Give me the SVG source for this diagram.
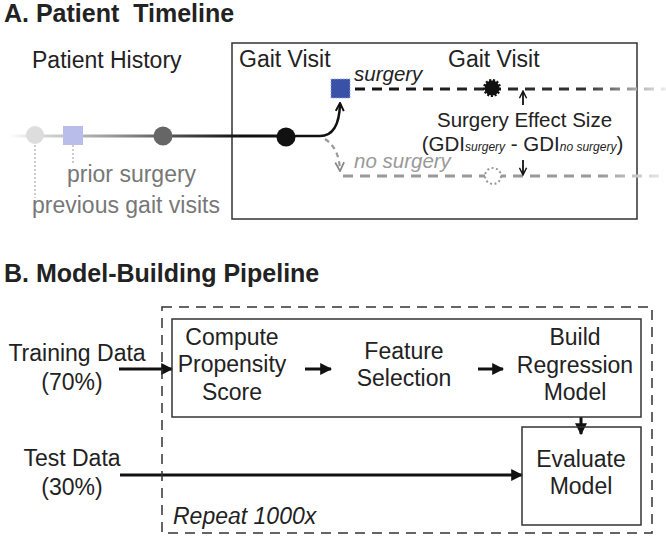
<svg xmlns="http://www.w3.org/2000/svg" width="666" height="538" viewBox="0 0 666 538">
<style>
text{font-family:"Liberation Sans",Arial,sans-serif;fill:#222}
.title{font-weight:bold;font-size:25px;white-space:pre}
.lbl{font-size:23px}
.sm{font-size:20.5px}
.gray{fill:#777}
.it{font-style:italic}
.c{text-anchor:middle}
.box{fill:none;stroke:#333;stroke-width:1.5}
.dash{fill:none;stroke-width:3;stroke-dasharray:10 7}
.arr{fill:none;stroke:#111;stroke-width:2.5}
</style>
<defs>
<linearGradient id="tl" gradientUnits="userSpaceOnUse" x1="8" y1="0" x2="240" y2="0">
<stop offset="0" stop-color="#fff"/>
<stop offset="0.12" stop-color="#ddd"/>
<stop offset="0.45" stop-color="#999"/>
<stop offset="0.7" stop-color="#555"/>
<stop offset="1" stop-color="#111"/>
</linearGradient>
<linearGradient id="fadeB" gradientUnits="userSpaceOnUse" x1="350" y1="0" x2="666" y2="0">
<stop offset="0" stop-color="#111"/>
<stop offset="0.75" stop-color="#333"/>
<stop offset="0.88" stop-color="#999"/>
<stop offset="1" stop-color="#eee"/>
</linearGradient>
<linearGradient id="fadeG" gradientUnits="userSpaceOnUse" x1="340" y1="0" x2="666" y2="0">
<stop offset="0" stop-color="#999"/>
<stop offset="0.8" stop-color="#999"/>
<stop offset="1" stop-color="#eee"/>
</linearGradient>
<marker id="ah" viewBox="0 0 10 10" refX="9" refY="5" markerWidth="4" markerHeight="4" orient="auto">
<path d="M0,0 L10,5 L0,10 z" fill="#111"/>
</marker>
<marker id="ahs" viewBox="0 0 10 10" refX="8" refY="5" markerWidth="5" markerHeight="5" orient="auto">
<path d="M1,1 L9,5 L1,9" fill="none" stroke="#111" stroke-width="1.6"/>
</marker>
<marker id="ahg" viewBox="0 0 10 10" refX="8" refY="5" markerWidth="5" markerHeight="5" orient="auto">
<path d="M1,1 L9,5 L1,9" fill="none" stroke="#888" stroke-width="1.6"/>
</marker>
<marker id="ahc" viewBox="0 0 10 10" refX="8" refY="5" markerWidth="4" markerHeight="4" orient="auto">
<path d="M1,1 L9,5 L1,9" fill="none" stroke="#111" stroke-width="2"/>
</marker>
</defs>

<g id="panelA">
<text class="title" x="4" y="22">A. Patient  Timeline</text>
<rect id="visitBox" class="box" x="232" y="43" width="405" height="176"/>
<text class="lbl" x="32" y="68">Patient History</text>
<text class="lbl" x="239" y="67">Gait Visit</text>
<text class="lbl" x="448" y="67">Gait Visit</text>
</g>

<g id="connectors">
<line x1="8" y1="136" x2="290" y2="136" stroke="url(#tl)" stroke-width="3"/>
<path d="M286 136 L320 136 Q339 136 340 104" class="arr" marker-end="url(#ahc)"/>
<path d="M325 139 Q339 148 340 170" fill="none" stroke="#999" stroke-width="2.2" stroke-dasharray="5 4" marker-end="url(#ahg)"/>
<line x1="355" y1="89" x2="666" y2="89" class="dash" stroke="url(#fadeB)"/>
<line x1="343" y1="176" x2="666" y2="176" class="dash" stroke="url(#fadeG)"/>
<line x1="35" y1="145" x2="35" y2="198" stroke="#999" stroke-width="1" stroke-dasharray="2 2"/>
<line x1="73" y1="145" x2="73" y2="163" stroke="#999" stroke-width="1" stroke-dasharray="2 2"/>
<line x1="523" y1="105" x2="523" y2="92" stroke="#111" stroke-width="1.8" marker-end="url(#ahs)"/>
<line x1="523" y1="160" x2="523" y2="174" stroke="#111" stroke-width="1.8" marker-end="url(#ahs)"/>
<line x1="119" y1="369" x2="172" y2="369" stroke="#111" stroke-width="3" marker-end="url(#ah)"/>
<line x1="305" y1="369" x2="331" y2="369" stroke="#111" stroke-width="3" marker-end="url(#ah)"/>
<line x1="478" y1="369" x2="503" y2="369" stroke="#111" stroke-width="3" marker-end="url(#ah)"/>
<line x1="581" y1="417" x2="581" y2="434" stroke="#111" stroke-width="3" marker-end="url(#ah)"/>
<line x1="120" y1="475" x2="522" y2="475" stroke="#111" stroke-width="3" marker-end="url(#ah)"/>
</g>

<g id="priorVisit1"><circle cx="35" cy="135" r="9" fill="#ddd"/></g>
<g id="priorSurgery"><rect x="63" y="126" width="20" height="19" fill="#b9bde9"/></g>
<g id="priorVisit2"><circle cx="163" cy="136" r="9.5" fill="#666"/></g>
<g id="gaitVisit1"><circle cx="286" cy="137" r="9.5" fill="#111"/></g>
<g id="surgeryNode"><rect x="331" y="79" width="19" height="19" fill="#3a51a8" stroke="#8fa0dd" stroke-width="1" stroke-dasharray="1.5 1.5"/></g>
<g id="gaitVisit2S"><circle cx="492" cy="88" r="7.5" fill="#111" stroke="#111" stroke-width="3" stroke-dasharray="2 1.6"/></g>
<g id="gaitVisit2N"><circle cx="493" cy="176" r="8" fill="#fff" stroke="#999" stroke-width="2" stroke-dasharray="2 2.5"/></g>

<g id="labelsA">
<text class="sm it" x="354" y="81">surgery</text>
<text class="sm it" x="354" y="168" style="fill:#999">no surgery</text>
<text class="lbl gray" x="67" y="182">prior surgery</text>
<text class="lbl gray" x="32" y="213">previous gait visits</text>
<text class="sm c" x="524.5" y="127">Surgery Effect Size</text>
<text class="sm c" x="522.5" y="151">(GDI<tspan font-size="12" font-style="italic">surgery</tspan> - GDI<tspan font-size="12" font-style="italic">no surgery</tspan>)</text>
</g>

<g id="panelB">
<text class="title" x="4" y="282">B. Model-Building Pipeline</text>
<rect id="repeatBox" x="162" y="307" width="490" height="226" fill="none" stroke="#333" stroke-width="1.5" stroke-dasharray="10 7"/>
<text class="lbl it" x="173" y="524">Repeat 1000x</text>
</g>
<g id="trainingData">
<text class="lbl c" x="77" y="361">Training Data</text>
<text class="lbl c" x="72" y="390">(70%)</text>
</g>
<g id="testData">
<text class="lbl c" x="72" y="466">Test Data</text>
<text class="lbl c" x="72" y="495">(30%)</text>
</g>
<g id="pipelineBox">
<rect class="box" x="172" y="319" width="469" height="98" stroke="#777"/>
</g>
<g id="propensity">
<text class="lbl c" x="232" y="345">Compute</text>
<text class="lbl c" x="232" y="372">Propensity</text>
<text class="lbl c" x="232" y="400">Score</text>
</g>
<g id="featureSel">
<text class="lbl c" x="404" y="359">Feature</text>
<text class="lbl c" x="404" y="386">Selection</text>
</g>
<g id="buildModel">
<text class="lbl c" x="575" y="345">Build</text>
<text class="lbl c" x="575" y="373">Regression</text>
<text class="lbl c" x="575" y="400">Model</text>
</g>
<g id="evaluate">
<rect class="box" x="522" y="427" width="119" height="98" stroke="#777"/>
<text class="lbl c" x="581" y="467">Evaluate</text>
<text class="lbl c" x="581" y="494">Model</text>
</g>
</svg>
